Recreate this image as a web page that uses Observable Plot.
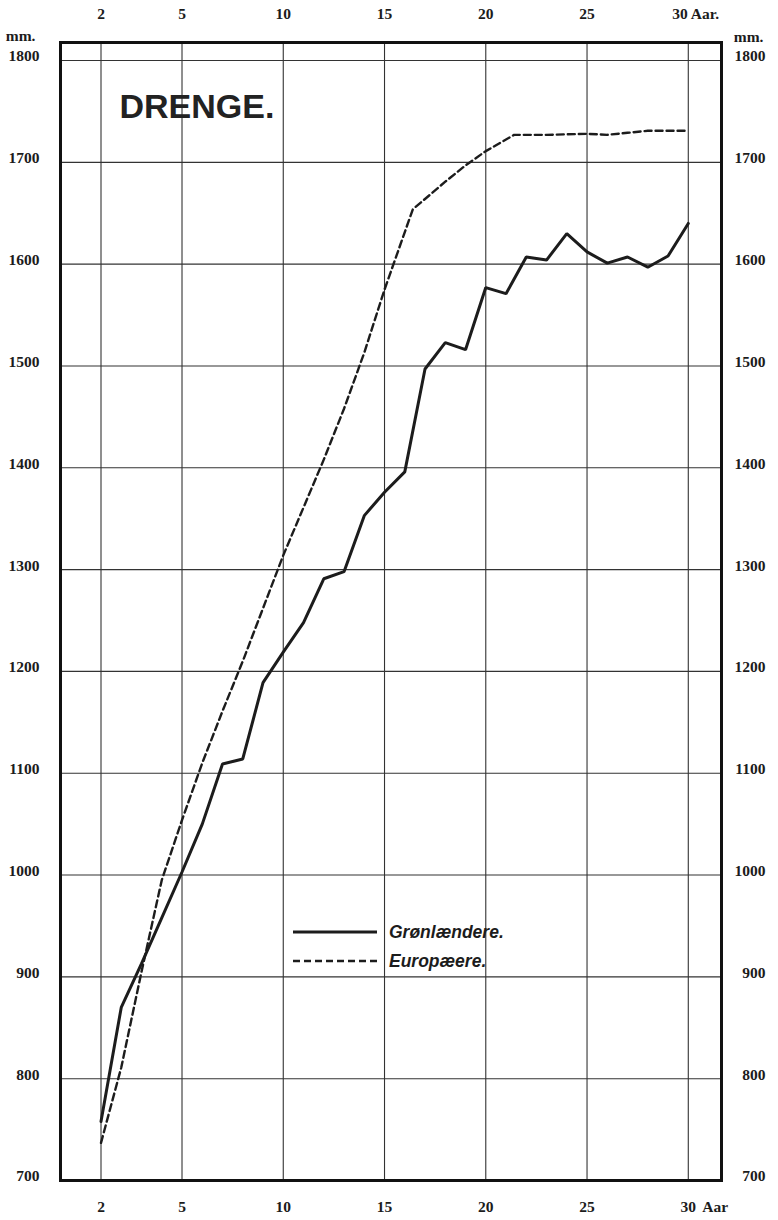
<!DOCTYPE html>
<html>
<head>
<meta charset="utf-8">
<script src="https://cdn.jsdelivr.net/npm/d3@7"></script>
<script src="https://cdn.jsdelivr.net/npm/@observablehq/plot@0.6"></script>
<style>
  body { margin: 0; background: #fff; }
  #wrap { position: relative; width: 778px; height: 1220px; }
  #legend { position: absolute; left: 0; top: 0; pointer-events: none; }
</style>
</head>
<body>
<div id="wrap"></div>
<script>
// ---- data ----
const title = "DRENGE.";
const xTicks = [1, 5, 10, 15, 20, 25, 30];
const xTickLabels = ["2", "5", "10", "15", "20", "25", "30"];
const xUnitTop = "Aar.";
const xUnitBottom = "Aar";
const yTicks = [700, 800, 900, 1000, 1100, 1200, 1300, 1400, 1500, 1600, 1700, 1800];
const yUnit = "mm.";

const seriesNames = ["Grønlændere.", "Europæere."];

const groenAges = [1, 2, 3, 4, 5, 6, 7, 8, 9, 10, 11, 12, 13, 14, 15, 16, 17, 18, 19, 20, 21, 22, 23, 24, 25, 26, 27, 28, 29, 30];
const groenHeights = [758, 870, 913, 958, 1003, 1050, 1109, 1114, 1189, 1219, 1248, 1291, 1298, 1353, 1376, 1396, 1497, 1523, 1516, 1577, 1571, 1607, 1604, 1630, 1612, 1601, 1607, 1597, 1608, 1640];

const euroAges = [1, 2, 3, 4, 5, 6, 7, 8, 9, 10, 11, 12, 13, 14, 15, 16.4, 17, 18, 19, 20, 21.4, 23, 25, 26, 27, 28, 30];
const euroHeights = [737, 811, 905, 995, 1054, 1110, 1161, 1210, 1262, 1314, 1361, 1408, 1458, 1513, 1575, 1654, 1664, 1681, 1697, 1711, 1727, 1727, 1728, 1727, 1729, 1731, 1731];

// ---- build tables ----
const groen = groenAges.map((a, i) => ({x: a, y: groenHeights[i]}));
const euro = euroAges.map((a, i) => ({x: a, y: euroHeights[i]}));

const serif = "Liberation Serif, DejaVu Serif, serif";
const ink = "#1c1c1c";
const n = xTicks.length;
const topTicks = xTicks.slice(0, n - 1);
const lastTick = xTicks[n - 1];
const lastLabel = xTickLabels[n - 1];

const labelStyle = {fontFamily: serif, fontWeight: "bold", fontSize: 15.5, fill: ink};

const chart = Plot.plot({
  width: 778,
  height: 1220,
  marginTop: 42,
  marginLeft: 60,
  marginRight: 57,
  marginBottom: 40,
  style: {background: "#fff", fontFamily: serif, color: ink},
  x: {domain: [-1, 31.64], axis: null},
  y: {domain: [700, 1817.7], axis: null},
  marks: [
    Plot.gridX(xTicks, {stroke: "#333", strokeOpacity: 1, strokeWidth: 1.1}),
    Plot.gridY(yTicks, {stroke: "#333", strokeOpacity: 1, strokeWidth: 1.1}),
    Plot.line(euro, {x: "x", y: "y", stroke: ink, strokeWidth: 2.4, strokeDasharray: "7,4"}),
    Plot.line(groen, {x: "x", y: "y", stroke: ink, strokeWidth: 3, strokeLinejoin: "miter"}),
    Plot.frame({stroke: "#111", strokeWidth: 3}),
    // top x labels
    Plot.text(topTicks, {x: d => d, text: (d, i) => xTickLabels[i], frameAnchor: "top", lineAnchor: "bottom", dy: -24, ...labelStyle}),
    Plot.text([lastTick], {x: d => d, text: () => lastLabel + " " + xUnitTop, frameAnchor: "top", lineAnchor: "bottom",
      textAnchor: "start", dx: -16, dy: -24, ...labelStyle}),
    // bottom x labels
    Plot.text(xTicks, {x: d => d, text: (d, i) => xTickLabels[i], frameAnchor: "bottom", lineAnchor: "top", dy: 20, ...labelStyle}),
    Plot.text([lastTick], {x: d => d, text: () => xUnitBottom, frameAnchor: "bottom", lineAnchor: "top", textAnchor: "start",
      dx: 14, dy: 20, ...labelStyle}),
    // left y labels
    Plot.text(yTicks, {y: d => d, text: d => String(d), frameAnchor: "left", textAnchor: "end", dx: -21, dy: -4, ...labelStyle}),
    // right y labels
    Plot.text(yTicks, {y: d => d, text: d => String(d), frameAnchor: "right", textAnchor: "end", dx: 44, dy: -4, ...labelStyle}),
    // units
    Plot.text([yUnit], {frameAnchor: "top-left", textAnchor: "end", dx: -25, dy: -6, lineAnchor: "middle", ...labelStyle}),
    Plot.text([yUnit], {frameAnchor: "top-right", textAnchor: "end", dx: 42, dy: -5, lineAnchor: "middle", ...labelStyle}),
    // title
    Plot.text([title], {frameAnchor: "top-left", textAnchor: "start", lineAnchor: "top", dx: 59, dy: 51,
      fontFamily: "Liberation Sans, Arial, sans-serif", fontWeight: "bold", fontSize: 34, fill: "#222"})
  ]
});

const wrap = document.getElementById("wrap");
wrap.appendChild(chart);

// ---- legend overlay (inside the frame, as in the reference) ----
const legend = d3.create("svg")
  .attr("id", "legend")
  .attr("width", 778)
  .attr("height", 1220);
const dashes = [null, "7,4"];
const widths = [3, 2.4];
seriesNames.forEach((name, i) => {
  const y = 932 + i * 29;
  legend.append("line")
    .attr("x1", 293).attr("x2", 377).attr("y1", y).attr("y2", y)
    .attr("stroke", ink).attr("stroke-width", widths[i])
    .attr("stroke-dasharray", dashes[i]);
  legend.append("text")
    .attr("x", 389).attr("y", y + 6)
    .attr("font-family", "Liberation Sans, Arial, sans-serif")
    .attr("font-weight", "bold").attr("font-style", "italic")
    .attr("font-size", 17.5).attr("fill", ink)
    .text(name);
});
wrap.appendChild(legend.node());
</script>
</body>
</html>
